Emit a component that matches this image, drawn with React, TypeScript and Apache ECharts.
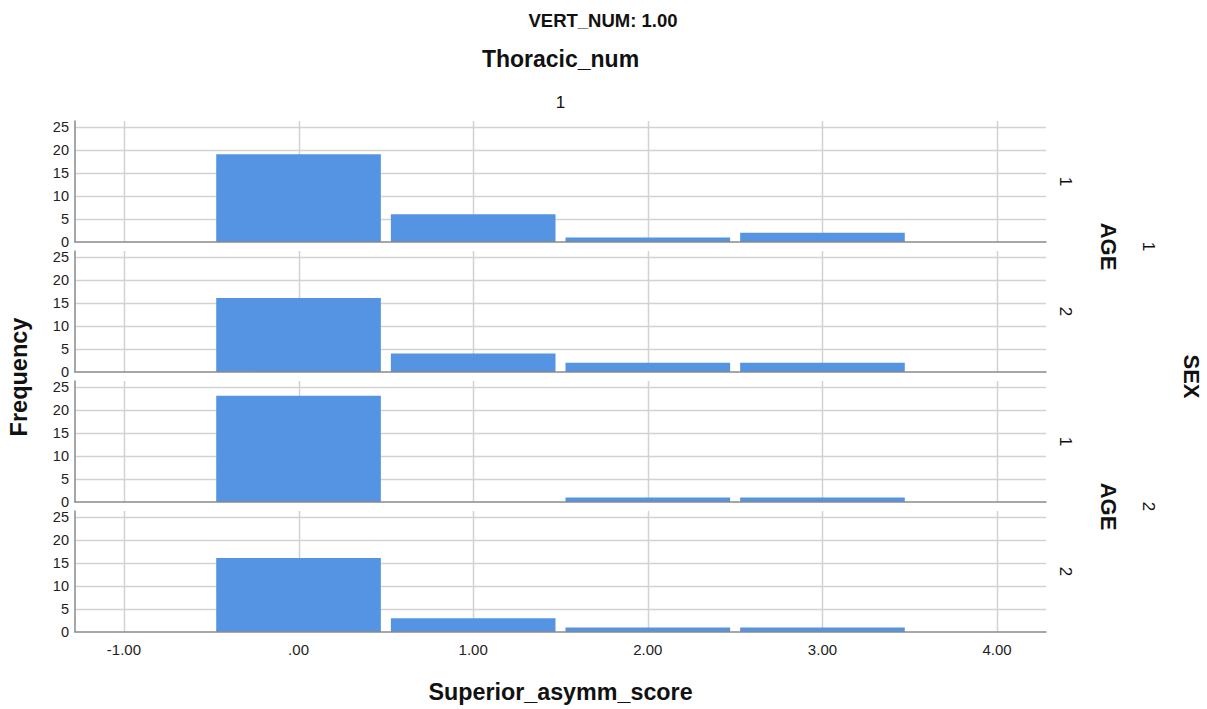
import React, { useEffect, useRef } from "react";
import * as echarts from "echarts";

// ---- Data ----
const binCenters = [0, 1, 2, 3];
const sex1Age1 = [19, 6, 1, 2];
const sex1Age2 = [16, 4, 2, 2];
const sex2Age1 = [23, 0, 1, 1];
const sex2Age2 = [16, 3, 1, 1];
const panelData = [sex1Age1, sex1Age2, sex2Age1, sex2Age2];
const ageLabels = ["1", "2", "1", "2"];
const sexLabels = ["1", "2"];
const xTicks = [-1, 0, 1, 2, 3, 4];
const yTicks = [5, 10, 15, 20, 25];

const FONT = "'Liberation Sans', Arial, sans-serif";
const BAR_COLOR = "#5594e3";
const GRID_COLOR = "#d2d2d2";
const AXIS_COLOR = "#8a8a8a";

const GRID_LEFT = 75;
const GRID_RIGHT = 161;
const PANEL_TOPS = [121, 251, 381, 511];
const PANEL_H = 121;
const X_MIN = -1.28;
const X_MAX = 4.28;
const Y_MAX = 26.2;

function fmtX(v: number): string {
  if (Math.abs(v - Math.round(v)) > 1e-6) return "";
  const s = Math.round(v).toFixed(2);
  return s.replace(/^(-?)0\./, "$1.");
}

export default function App() {
  const ref = useRef<HTMLDivElement>(null);

  useEffect(() => {
    document.body.style.margin = "0";
    if (!ref.current) return;
    const chart = echarts.init(ref.current, null, { renderer: "svg" });

    const grids: any[] = [];
    const xAxes: any[] = [];
    const yAxes: any[] = [];
    const series: any[] = [];

    panelData.forEach((vals, i) => {
      grids.push({
        left: GRID_LEFT,
        right: GRID_RIGHT,
        top: PANEL_TOPS[i],
        height: PANEL_H,
        containLabel: false,
      });
      xAxes.push({
        gridIndex: i,
        type: "value",
        min: X_MIN,
        max: X_MAX,
        z: 5,
        axisLine: { show: true, onZero: false, lineStyle: { color: AXIS_COLOR, width: 1.5 } },
        axisTick: { show: false },
        splitLine: { show: false },
        axisLabel: {
          show: i === panelData.length - 1,
          formatter: (v: number) => fmtX(v),
          color: "#222",
          fontSize: 15,
          fontFamily: FONT,
          margin: 10,
          showMinLabel: false,
          showMaxLabel: false,
        },
      });
      yAxes.push({
        gridIndex: i,
        type: "value",
        min: 0,
        max: Y_MAX,
        interval: 5,
        z: 5,
        axisLine: { show: true, onZero: false, lineStyle: { color: AXIS_COLOR, width: 1.5 } },
        axisTick: { show: false },
        splitLine: { show: false },
        axisLabel: {
          formatter: (v: number) => (v % 5 === 0 ? String(v) : ""),
          color: "#222",
          fontSize: 14.5,
          fontFamily: FONT,
          margin: 6,
        },
      });
      // horizontal grid lines
      series.push({
        type: "custom",
        xAxisIndex: i,
        yAxisIndex: i,
        z: 1,
        silent: true,
        data: yTicks.map((v) => [0, v]),
        renderItem: (params: any, api: any) => {
          const cs = params.coordSys;
          const p = api.coord([0, api.value(1)]);
          const y = Math.round(p[1]) + 0.5;
          return {
            type: "line",
            shape: { x1: cs.x, y1: y, x2: cs.x + cs.width, y2: y },
            style: { stroke: GRID_COLOR, lineWidth: 1.5 },
          };
        },
      });
      // vertical grid lines
      series.push({
        type: "custom",
        xAxisIndex: i,
        yAxisIndex: i,
        z: 1,
        silent: true,
        data: xTicks.map((v) => [v, 0]),
        renderItem: (params: any, api: any) => {
          const cs = params.coordSys;
          const p = api.coord([api.value(0), 0]);
          const x = Math.round(p[0]) + 0.5;
          return {
            type: "line",
            shape: { x1: x, y1: cs.y, x2: x, y2: cs.y + cs.height },
            style: { stroke: GRID_COLOR, lineWidth: 1.5 },
          };
        },
      });
      // histogram bars
      series.push({
        type: "custom",
        xAxisIndex: i,
        yAxisIndex: i,
        z: 2,
        data: binCenters.map((c, k) => [c, vals[k]]),
        renderItem: (params: any, api: any) => {
          const x = api.value(0);
          const y = api.value(1);
          if (!y) return null;
          const p0 = api.coord([x - 0.5, 0]);
          const p1 = api.coord([x + 0.5, y]);
          return {
            type: "rect",
            shape: {
              x: p0[0] + 5,
              y: p1[1],
              width: p1[0] - p0[0] - 10,
              height: p0[1] - p1[1],
            },
            style: { fill: BAR_COLOR },
          };
        },
      });
    });

    const plotCenter = GRID_LEFT + (1207 - GRID_LEFT - GRID_RIGHT) / 2;
    const graphics: any[] = [];
    const txt = (text: string, x: number, y: number, size: number, bold: boolean, rotation = 0) => ({
      type: "text",
      x,
      y,
      rotation,
      silent: true,
      style: {
        text,
        fill: "#111",
        font: `${bold ? "bold " : ""}${size}px ${FONT}`,
        textAlign: "center",
        textVerticalAlign: "middle",
      },
    });
    graphics.push(txt("VERT_NUM: 1.00", 603, 20, 18.5, true));
    graphics.push(txt("Thoracic_num", plotCenter, 59, 23, true));
    graphics.push(txt("1", plotCenter, 102, 17, false));
    graphics.push(txt("Frequency", 19, 377, 23.5, true, Math.PI / 2));
    graphics.push(txt("Superior_asymm_score", plotCenter, 692, 23.3, true));
    PANEL_TOPS.forEach((t, i) => {
      graphics.push(txt(ageLabels[i], 1065, t + PANEL_H / 2, 17, false, -Math.PI / 2));
    });
    sexLabels.forEach((s, j) => {
      const mid = (PANEL_TOPS[2 * j] + PANEL_TOPS[2 * j + 1] + PANEL_H) / 2;
      graphics.push(txt("AGE", 1108, mid, 22, true, -Math.PI / 2));
      graphics.push(txt(s, 1148, mid, 17, false, -Math.PI / 2));
    });
    graphics.push(txt("SEX", 1191, (PANEL_TOPS[0] + PANEL_TOPS[3] + PANEL_H) / 2, 22, true, -Math.PI / 2));

    chart.setOption({
      animation: false,
      backgroundColor: "#ffffff",
      grid: grids,
      xAxis: xAxes,
      yAxis: yAxes,
      series,
      graphic: graphics,
    });

    return () => chart.dispose();
  }, []);

  return <div ref={ref} style={{ width: 1207, height: 709 }} />;
}
